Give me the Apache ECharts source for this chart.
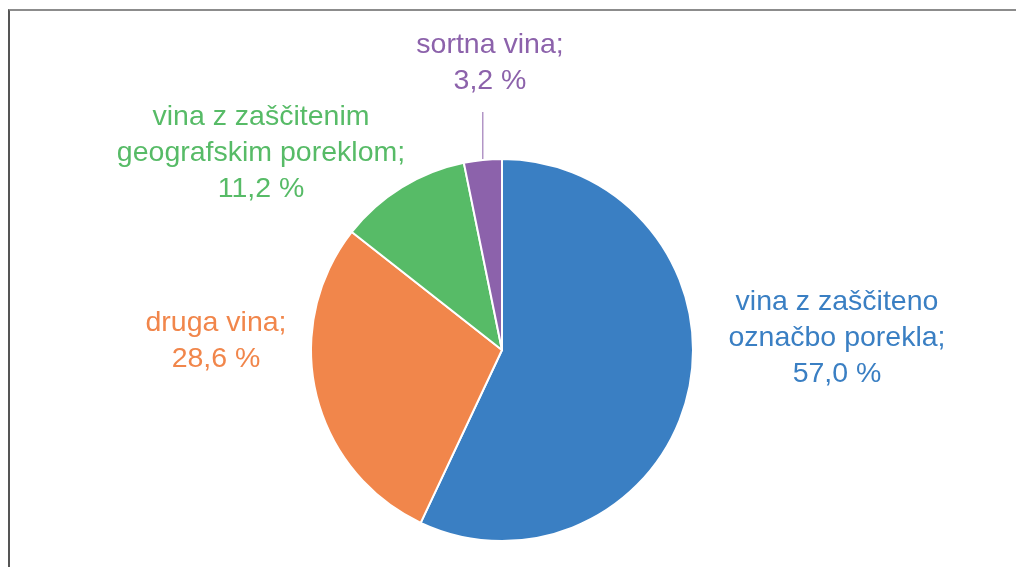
<!DOCTYPE html>
<html>
<head>
<meta charset="utf-8">
<script src="https://cdn.jsdelivr.net/npm/echarts@6/dist/echarts.min.js"></script>
<style>
  html, body { margin: 0; padding: 0; background: #fff; }
  #frame {
    position: absolute; left: 8px; top: 9px; right: 0; bottom: 0;
    border-left: 2px solid #555; border-top: 2px solid #8c8c8c;
  }
  #chart { position: absolute; left: 0; top: 0; width: 1016px; height: 567px; }
</style>
</head>
<body>
<div id="frame"></div>
<div id="chart"></div>
<script>
// podatki
const categories = [
  'vina z zaščiteno\noznačbo porekla',
  'druga vina',
  'vina z zaščitenim\ngeografskim poreklom',
  'sortna vina'
];
const shares = [57.0, 28.6, 11.2, 3.2];
const colors = ['#3a7fc3', '#f1864b', '#57bb67', '#8c62ab'];

// label centres (layout only)
const labelPos = [[837, 338], [216, 341], [261, 153], [490, 63]];

const chart = echarts.init(document.getElementById('chart'));

chart.setOption({
  backgroundColor: 'transparent',
  animation: false,
  series: [{
    type: 'pie',
    center: [502, 350],
    radius: 191,
    startAngle: 90,
    clockwise: true,
    data: categories.map((name, i) => ({
      name: name,
      value: shares[i],
      itemStyle: { color: colors[i] },
      label: { color: colors[i] },
      labelLine: { show: i === 3, lineStyle: { color: colors[i], width: 1 } }
    })),
    itemStyle: { borderColor: '#fff', borderWidth: 2 },
    label: {
      show: true,
      position: 'outside',
      fontFamily: 'Liberation Sans, Arial, sans-serif',
      fontSize: 28.5,
      lineHeight: 36,
      align: 'center',
      formatter: function (p) {
        return p.name + ';\n' + p.value.toFixed(1).replace('.', ',') + ' %';
      }
    },
    labelLine: { length: 20, length2: 0 },
    labelLayout: function (params) {
      const pos = labelPos[params.dataIndex];
      const res = { x: pos[0], y: pos[1], align: 'center', verticalAlign: 'middle' };
      if (params.dataIndex === 3 && params.labelLinePoints) {
        const start = params.labelLinePoints[0];
        res.labelLinePoints = [[start[0], start[1]], [start[0], 112]];
      }
      return res;
    },
    emphasis: { disabled: true }
  }]
});
</script>
</body>
</html>
